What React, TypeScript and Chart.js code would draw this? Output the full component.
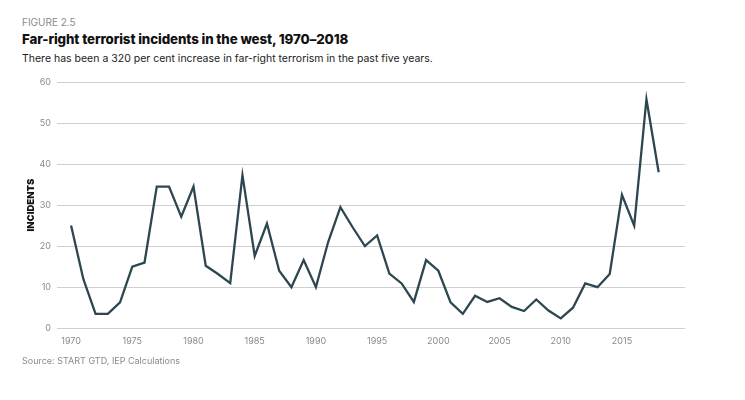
import React, { useEffect, useRef } from "react";
import { Chart, registerables } from "chart.js";

Chart.register(...registerables);

const years: number[] = [
  1970, 1971, 1972, 1973, 1974, 1975, 1976, 1977, 1978, 1979,
  1980, 1981, 1982, 1983, 1984, 1985, 1986, 1987, 1988, 1989,
  1990, 1991, 1992, 1993, 1994, 1995, 1996, 1997, 1998, 1999,
  2000, 2001, 2002, 2003, 2004, 2005, 2006, 2007, 2008, 2009,
  2010, 2011, 2012, 2013, 2014, 2015, 2016, 2017, 2018,
];

const incidents: number[] = [
  25, 12, 3.5, 3.5, 6.3, 15, 16, 34.5, 34.5, 27.2,
  34.5, 15.2, 13.2, 11, 37.3, 17.6, 25.5, 14, 10, 16.6,
  10, 21, 29.5, 24.6, 20, 22.6, 13.3, 10.9, 6.4, 16.6,
  14, 6.3, 3.5, 7.9, 6.4, 7.3, 5.2, 4.2, 7, 4.3,
  2.4, 5, 10.9, 10, 13.2, 32.5, 25, 55.8, 38,
];

const xTickValues: number[] = [1970, 1975, 1980, 1985, 1990, 1995, 2000, 2005, 2010, 2015];
const yTickValues: number[] = [0, 10, 20, 30, 40, 50, 60];

const FONT = "Inter, 'Open Sans', sans-serif";

export default function App() {
  const ref = useRef<HTMLCanvasElement | null>(null);

  useEffect(() => {
    document.body.style.margin = "0";
    const canvas = ref.current;
    if (!canvas) return;
    const chart = new Chart(canvas, {
      type: "line",
      data: {
        datasets: [
          {
            label: "Incidents",
            data: years.map((y, i) => ({ x: y, y: incidents[i] })),
            borderColor: "#2e4650",
            borderWidth: 2.3,
            pointRadius: 0,
            tension: 0,
            fill: false,
          },
        ],
      },
      options: {
        animation: false,
        responsive: false,
        maintainAspectRatio: false,
        layout: { padding: { left: 22, right: 60, top: 82, bottom: 45 } },
        plugins: {
          legend: { display: false },
          tooltip: { enabled: false },
        },
        scales: {
          x: {
            type: "linear",
            min: 1968.85,
            max: 2020.15,
            grid: { display: false, drawTicks: false },
            border: { display: false },
            afterBuildTicks: (scale: any) => {
              scale.ticks = xTickValues.map((v) => ({ value: v }));
            },
            ticks: {
              padding: 8,
              color: "#8a8a8a",
              font: { family: FONT, size: 9 },
              callback: (v: any) => String(v),
            },
          },
          y: {
            min: 0,
            max: 60,
            afterBuildTicks: (scale: any) => {
              scale.ticks = yTickValues.map((v) => ({ value: v }));
            },
            afterFit: (scale: any) => {
              scale.width = 35;
            },
            grid: { color: "#cfcfcf", lineWidth: 1, drawTicks: false },
            border: { display: false },
            ticks: {
              padding: 6,
              color: "#8a8a8a",
              font: { family: FONT, size: 9 },
            },
            title: {
              display: true,
              text: "INCIDENTS",
              color: "#111",
              font: { family: FONT, size: 9.5, weight: 900 },
              padding: { top: 3, bottom: 0 },
            },
          },
        },
      },
    });
    return () => chart.destroy();
  }, []);

  return (
    <div style={{ position: "relative", width: 745, height: 400, background: "#fff", fontFamily: FONT }}>
      <div style={{ position: "absolute", left: 22, top: 16, fontSize: 10, color: "#8a8a8a" }}>FIGURE 2.5</div>
      <div style={{ position: "absolute", left: 22, top: 31, fontSize: 13.3, fontWeight: 800, color: "#111", letterSpacing: -0.1 }}>
        Far-right terrorist incidents in the west, 1970–2018
      </div>
      <div style={{ position: "absolute", left: 22, top: 52, fontSize: 10.5, color: "#222" }}>
        There has been a 320 per cent increase in far-right terrorism in the past five years.
      </div>
      <canvas ref={ref} width={745} height={400} style={{ position: "absolute", left: 0, top: 0, width: 745, height: 400 }} />
      <div style={{ position: "absolute", left: 22, top: 355, fontSize: 9, color: "#8a8a8a" }}>Source: START GTD, IEP Calculations</div>
    </div>
  );
}
